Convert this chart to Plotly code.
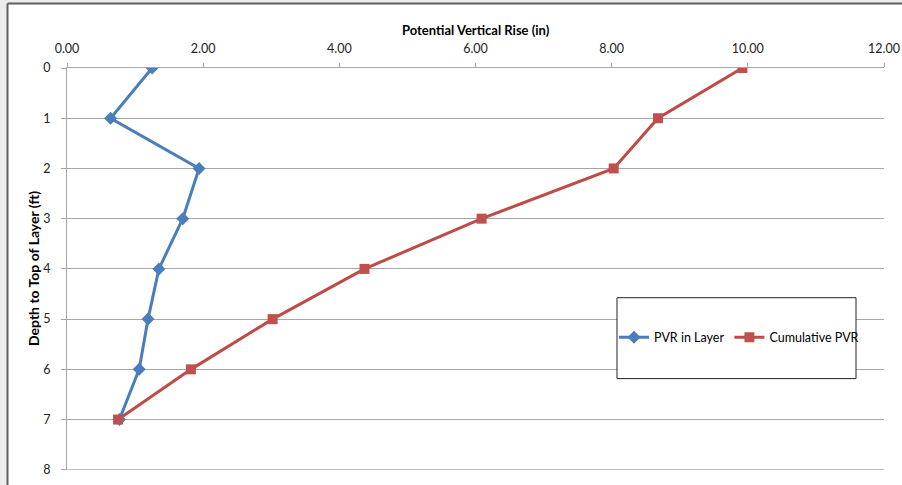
import plotly.graph_objects as go

depth = [0, 1, 2, 3, 4, 5, 6, 7]
pvr_layer = [1.25, 0.64, 1.94, 1.70, 1.35, 1.19, 1.06, 0.77]
pvr_cumulative = [9.92, 8.68, 8.03, 6.09, 4.37, 3.02, 1.82, 0.75]
x_ticks = [0, 2, 4, 6, 8, 10, 12]
y_ticks = [0, 1, 2, 3, 4, 5, 6, 7, 8]

W, H = 902, 485
L, R, T, B = 67, 18, 68, 14.5
PW, PH = W - L - R, H - T - B


def px(xp):
    return (xp - L) / PW


def py(yp):
    return (H - B - yp) / PH


FONT = "Lato, Open Sans, Liberation Sans, sans-serif"
GRID = "#a6a6a6"

fig = go.Figure()
fig.add_trace(go.Scatter(
    x=pvr_layer, y=depth, name="PVR in Layer", mode="lines+markers",
    line=dict(color="#4a7ebb", width=3),
    marker=dict(symbol="diamond", size=10, color="#4a7ebb"),
))
fig.add_trace(go.Scatter(
    x=pvr_cumulative, y=depth, name="Cumulative PVR", mode="lines+markers",
    line=dict(color="#be4b48", width=3),
    marker=dict(symbol="square", size=10, color="#c0504d"),
))

shapes = [
    # outer grey strips
    dict(type="rect", xref="paper", yref="paper", x0=px(-5), x1=px(7), y0=py(H + 5), y1=py(-5),
         fillcolor="#ececec", line_width=0, layer="below"),
    dict(type="rect", xref="paper", yref="paper", x0=px(-5), x1=px(W + 5), y0=py(3), y1=py(-5),
         fillcolor="#ececec", line_width=0, layer="below"),
    # frame lines
    dict(type="line", xref="paper", yref="paper", x0=px(7.5), x1=px(7.5), y0=py(3.5), y1=py(H + 5),
         line=dict(color="#5f5f5f", width=2)),
    dict(type="line", xref="paper", yref="paper", x0=px(7.5), x1=px(W + 5), y0=py(3.5), y1=py(3.5),
         line=dict(color="#5f5f5f", width=2)),
    # bottom gridline at the last category
    dict(type="line", xref="x", yref="y", x0=x_ticks[0], x1=x_ticks[-1], y0=y_ticks[-1], y1=y_ticks[-1],
         line=dict(color=GRID, width=1), layer="below"),
    # legend box
    dict(type="rect", xref="paper", yref="paper", x0=px(617), x1=px(856), y0=py(379), y1=py(298),
         fillcolor="white", line=dict(color="#222222", width=1), layer="above"),
]

annotations = [
    dict(text="<b>Potential Vertical Rise (in)</b>", xref="paper", yref="paper",
         x=0.5, y=py(30), xanchor="center", yanchor="middle", showarrow=False,
         font=dict(family=FONT, size=13, color="#000000")),
    dict(text="<b>Depth to Top of Layer (ft)</b>", xref="paper", yref="paper",
         x=px(33), y=0.5, xanchor="center", yanchor="middle", showarrow=False, textangle=-90,
         font=dict(family=FONT, size=14, color="#000000")),
]

fig.update_layout(
    width=W, height=H,
    margin=dict(l=L, r=R, t=T, b=B, pad=0, autoexpand=False),
    paper_bgcolor="white", plot_bgcolor="white",
    font=dict(family=FONT, size=12, color="#000000"),
    shapes=shapes, annotations=annotations,
    legend=dict(orientation="h", x=px(739), y=py(338), xanchor="center", yanchor="middle",
                bgcolor="rgba(0,0,0,0)", borderwidth=0, font=dict(size=12.5, family=FONT),
                itemwidth=30, tracegroupgap=0),
    showlegend=True,
)
fig.update_xaxes(
    side="top", range=[0, 12], tickvals=x_ticks, tickformat=".2f", automargin=False,
    showgrid=False, zeroline=False, showline=True, linecolor=GRID, linewidth=1,
    ticks="outside", ticklen=4, tickcolor=GRID, ticklabelstandoff=5,
    tickfont=dict(size=12.5, color="#222222"),
)
fig.update_yaxes(
    range=[8.004, 0], tickvals=y_ticks, automargin=False,
    showgrid=True, gridcolor=GRID, gridwidth=1, zeroline=False,
    showline=True, linecolor=GRID, linewidth=1,
    ticks="outside", ticklen=5, tickcolor=GRID, ticklabelstandoff=8,
    tickfont=dict(size=12.5, color="#222222"),
)

fig.write_html(
    "out.html",
    config={"displayModeBar": False},
    post_script="document.documentElement.style.margin='0';document.body.style.margin='0';"
                "document.body.style.overflow='hidden';",
)
